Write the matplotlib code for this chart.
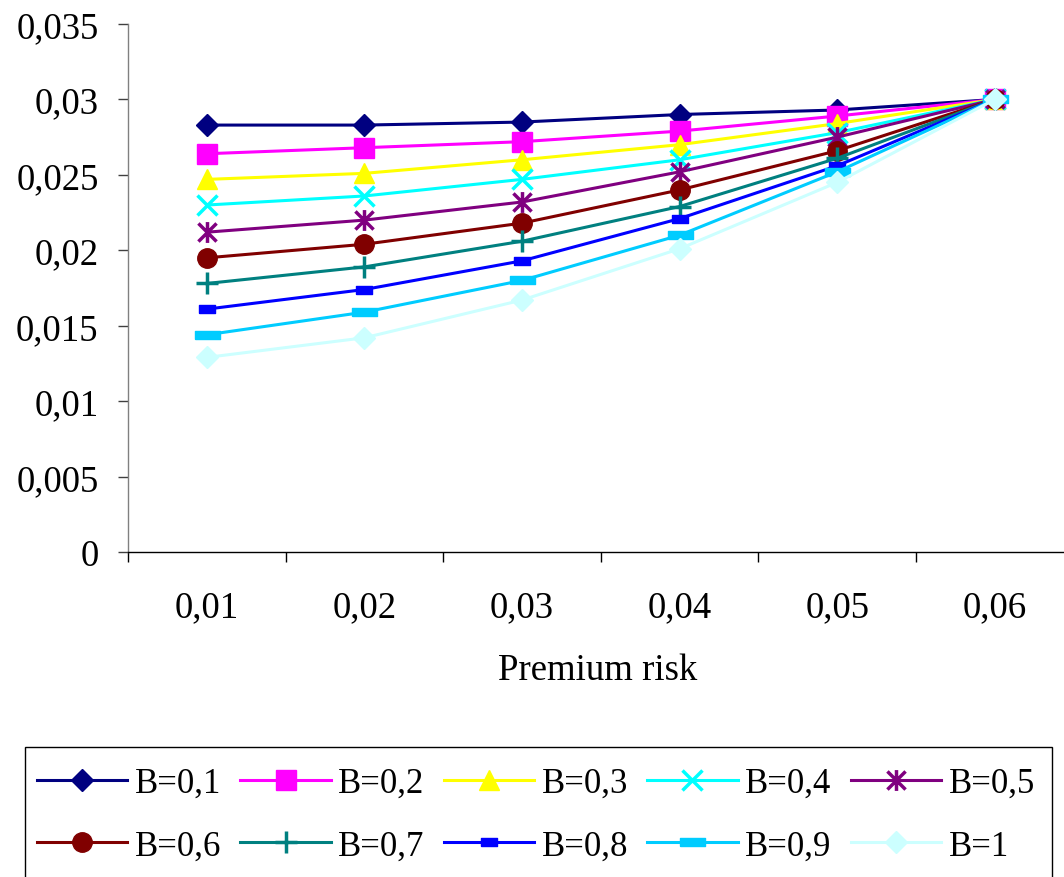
import matplotlib
matplotlib.use("Agg")
import matplotlib.pyplot as plt
from matplotlib.patches import Rectangle
from matplotlib.path import Path

plt.rcParams['font.family'] = ['Liberation Serif', 'DejaVu Serif']

categories = ['0,01', '0,02', '0,03', '0,04', '0,05', '0,06']
series_labels = ['B=0,1', 'B=0,2', 'B=0,3', 'B=0,4', 'B=0,5',
                 'B=0,6', 'B=0,7', 'B=0,8', 'B=0,9', 'B=1']
b01 = [0.0283, 0.0283, 0.0285, 0.0290, 0.0293, 0.0300]
b02 = [0.0264, 0.0268, 0.0272, 0.0279, 0.0289, 0.0300]
b03 = [0.0247, 0.0251, 0.0260, 0.0270, 0.0284, 0.0300]
b04 = [0.0230, 0.0236, 0.0247, 0.0260, 0.0278, 0.0300]
b05 = [0.0212, 0.0220, 0.0232, 0.0252, 0.0275, 0.0300]
b06 = [0.0195, 0.0204, 0.0218, 0.0240, 0.0266, 0.0300]
b07 = [0.0178, 0.0189, 0.0206, 0.0229, 0.0261, 0.0300]
b08 = [0.0161, 0.0174, 0.0193, 0.0221, 0.0256, 0.0300]
b09 = [0.0144, 0.0159, 0.0180, 0.0210, 0.0252, 0.0300]
b10 = [0.0129, 0.0142, 0.0167, 0.0201, 0.0245, 0.0300]
series = [b01, b02, b03, b04, b05, b06, b07, b08, b09, b10]
ytick_values = [0, 0.005, 0.01, 0.015, 0.02, 0.025, 0.03, 0.035]
ytick_labels = ['0', '0,005', '0,01', '0,015', '0,02', '0,025', '0,03', '0,035']

colors = ['#000080', '#FF00FF', '#FFFF00', '#00FFFF', '#800080',
          '#800000', '#008080', '#0000FF', '#00CCFF', '#CCFFFF']

asterisk = Path([(0, -1), (0, 1), (-0.87, -0.87), (0.87, 0.87), (-0.87, 0.87), (0.87, -0.87)],
                [Path.MOVETO, Path.LINETO, Path.MOVETO, Path.LINETO, Path.MOVETO, Path.LINETO])
rect_small = [(-1, -0.56), (1, -0.56), (1, 0.56), (-1, 0.56), (-1, -0.56)]
rect_flat = [(-1, -0.32), (1, -0.32), (1, 0.32), (-1, 0.32), (-1, -0.32)]

styles = [
    dict(marker='D', ms=11),
    dict(marker='s', ms=14),
    dict(marker='^', ms=15),
    dict(marker='x', ms=14, mew=2.5),
    dict(marker=asterisk, ms=15, mew=2.5, mfc='none'),
    dict(marker='o', ms=14),
    dict(marker='+', ms=16, mew=2.5),
    dict(marker=rect_small, ms=11.5),
    dict(marker=rect_flat, ms=18),
    dict(marker='D', ms=11),
]

AX_FS = 26.5
LEG_FS = 25

W, H = 1064, 878
fig = plt.figure(figsize=(W / 100, H / 100), dpi=100)
ax = fig.add_axes([128 / W, (H - 553) / H, 945.6 / W, (553 - 25) / H])

x = list(range(len(categories)))
handles = []
for vals, lab, c, st in zip(series, series_labels, colors, styles):
    h, = ax.plot(x, vals, color=c, lw=2.2, mec=c, label=lab, clip_on=False, **st)
    handles.append(h)

ax.set_xlim(-0.5, len(categories) - 0.5)
ax.set_ylim(0, 0.035)
ax.set_yticks(ytick_values)
ax.set_yticklabels(ytick_labels)
ax.set_xticks([i - 0.5 for i in range(len(categories) + 1)])
ax.set_xticklabels([])
ax.set_xticks(x, minor=True)
ax.set_xticklabels(categories, minor=True)
ax.tick_params(axis='x', which='major', direction='out', length=7.2, width=1, color='black')
ax.tick_params(axis='x', which='minor', length=0, pad=27, labelsize=AX_FS)
ax.tick_params(axis='y', direction='out', length=7.2, width=1, color='#404040', pad=14, labelsize=AX_FS)
for s in ['top', 'right']:
    ax.spines[s].set_visible(False)
ax.spines['left'].set_color('#808080')
ax.spines['bottom'].set_color('black')
ax.spines['left'].set_linewidth(1)
ax.spines['bottom'].set_linewidth(1)

fig.text(598 / W, (H - 671) / H, 'Premium risk', ha='center', va='center', fontsize=AX_FS)

fig.patches.append(Rectangle((25 / W, -0.01), (1052 - 25) / W, (H - 748) / H + 0.01,
                             transform=fig.transFigure, fill=False, ec='black', lw=1))

ncol = 5
nrow = 2
order = [r * ncol + c for c in range(ncol) for r in range(nrow)]
fig.legend(handles=[handles[i] for i in order], loc='upper left', bbox_to_anchor=(37 / W, (H - 768) / H),
           ncol=ncol, frameon=False, fontsize=LEG_FS, borderpad=0, borderaxespad=0,
           handlelength=2.6, handletextpad=0.22, columnspacing=0.55, labelspacing=0.85)

fig.savefig('out.png', dpi=100)
